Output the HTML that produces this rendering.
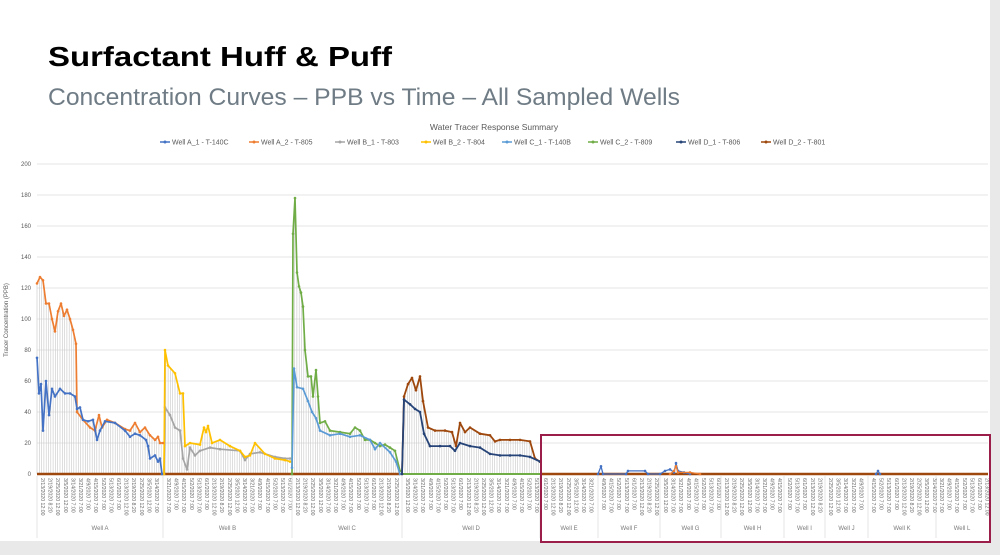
<!DOCTYPE html>
<html><head><meta charset="utf-8">
<style>
html,body{margin:0;padding:0;background:#fff;}
svg{display:block;font-family:"Liberation Sans",sans-serif;}
</style></head>
<body>
<svg id="s" width="1000" height="555" viewBox="0 0 1000 555" xmlns="http://www.w3.org/2000/svg">
<rect width="1000" height="555" fill="#fff"/>
<rect x="990" y="0" width="10" height="555" fill="#e9e9e9"/>
<rect x="0" y="541" width="1000" height="14" fill="#e9e9e9"/>
<text x="48" y="66" font-size="28" font-weight="bold" fill="#000" textLength="344" lengthAdjust="spacingAndGlyphs">Surfactant Huff &amp; Puff</text>
<text x="48" y="105" font-size="24" fill="#6f7c85" textLength="632" lengthAdjust="spacingAndGlyphs">Concentration Curves – PPB vs Time – All Sampled Wells</text>
<text x="494" y="130" font-size="8.5" fill="#595959" text-anchor="middle">Water Tracer Response Summary</text>
<g id="g"></g>
<rect x="541" y="435" width="449" height="107" fill="none" stroke="#9b1d4a" stroke-width="2"/>
</svg>
<script>
const g=document.getElementById('g');let h='';
const X0=37,X1=988,Y0=474,PX=1.55;
const y=v=>Y0-v*PX;
for(let v=0;v<=200;v+=20){h+=`<line x1="${X0}" x2="${X1}" y1="${y(v)}" y2="${y(v)}" stroke="#e6e6e6" stroke-width="1"/>`;
h+=`<text x="31" y="${y(v)+2}" font-size="6" fill="#595959" text-anchor="end">${v}</text>`;}
h+=`<text transform="translate(8,320) rotate(-90)" font-size="6" fill="#595959" text-anchor="middle">Tracer Concentration (PPB)</text>`;
const leg=[["Well A_1 - T-140C","#4472c4",160],["Well A_2 - T-805","#ed7d31",249],["Well B_1 - T-803","#a5a5a5",335],["Well B_2 - T-804","#ffc000",421],["Well C_1 - T-140B","#5b9bd5",502],["Well C_2 - T-809","#70ad47",588],["Well D_1 - T-806","#264478",676],["Well D_2 - T-801","#9e480e",761]];
leg.forEach(l=>{h+=`<line x1="${l[2]}" x2="${l[2]+10}" y1="142" y2="142" stroke="${l[1]}" stroke-width="1.5"/><circle cx="${l[2]+5}" cy="142" r="1.5" fill="${l[1]}"/><text x="${l[2]+12}" y="144.5" font-size="7" fill="#595959">${l[0]}</text>`;});
function interp(pts,x){for(let i=0;i<pts.length-1;i++){if(x>=pts[i][0]&&x<=pts[i+1][0]){const t=(x-pts[i][0])/(pts[i+1][0]-pts[i][0]||1);return pts[i][1]+t*(pts[i+1][1]-pts[i][1]);}}return null;}
function P(a){const r=[];for(let i=0;i<a.length;i+=2)r.push([a[i],a[i+1]]);return r;}
const S={
orange:P([37,123,40,127,43,125,46,110,49,110,52,100,55,92,58,105,61,110,64,102,67,106,70,100,73,93,76,84,77,40,83,35,90,30,95,28,99,38,102,30,107,35,115,33,125,29,130,28,135,33,140,27,145,30,150,25,155,22,158,24,160,20,163,20]),
blue:P([37,75,39,52,41,58,43,28,46,60,49,38,52,55,55,50,60,55,65,52,70,52,75,50,77,42,80,43,83,35,88,34,93,35,97,22,100,28,105,34,115,33,125,28,130,24,135,26,140,25,146,22,148,18,150,10,155,12,158,8,160,10,162,0]),
yellow:P([164,0,165,80,168,70,175,65,180,52,183,52,185,18,190,20,200,19,204,30,206,27,208,31,212,20,220,22,230,18,240,15,245,11,250,12,255,20,265,13,275,10,285,9,290,8]),
gray:P([164,0,165,43,170,38,175,30,180,28,183,10,187,3,190,17,195,12,200,15,210,17,220,16,240,15,245,9,250,13,260,14,275,11,285,10,290,10]),
green:P([292,0,293,155,295,178,297,130,299,121,301,117,303,108,305,80,308,63,311,63,313,50,316,67,318,50,320,33,325,34,330,28,340,27,350,26,355,30,360,28,365,22,370,22,375,20,380,18,385,19,390,17,395,15,400,2]),
lblue:P([292,4,294,68,297,56,303,55,308,47,312,40,316,36,320,28,330,25,340,26,350,24,360,25,370,22,375,16,380,20,390,14,396,8,400,0]),
brown:P([402,0,404,50,408,58,412,62,416,54,420,63,423,47,428,30,435,28,445,28,452,27,456,18,460,33,465,27,470,30,480,26,490,25,495,21,500,22,510,22,520,22,530,21,535,10,540,8]),
navy:P([402,0,404,48,410,45,415,42,420,40,424,26,430,18,440,18,450,18,455,15,460,20,470,18,480,17,490,13,500,12,510,12,520,12,530,11,540,8])
};
let d='';
for(let x=X0;x<540;x+=2.3){let m=0;for(const k in S){const v=interp(S[k],x);if(v!==null&&v>m)m=v;}if(m>0)d+=`M${x.toFixed(1)} ${Y0}V${y(m).toFixed(1)}`;}
h+=`<path d="${d}" stroke="#c8c8c8" stroke-width="0.6"/>`;
h+=`<line x1="${X0}" x2="${X1}" y1="${Y0}" y2="${Y0}" stroke="#70ad47" stroke-width="2"/>`;
h+=`<line x1="${X0}" x2="400" y1="${Y0}" y2="${Y0}" stroke="#9e480e" stroke-width="2.4"/>`;
h+=`<line x1="540" x2="${X1}" y1="${Y0}" y2="${Y0}" stroke="#9e480e" stroke-width="2.4"/>`;
function line(pts,c,w){let p='';pts.forEach((q,i)=>{p+=(i?'L':'M')+q[0]+' '+y(q[1]).toFixed(1);});let s=`<path d="${p}" fill="none" stroke="${c}" stroke-width="${w}" stroke-linejoin="round"/>`;pts.forEach(q=>{s+=`<circle cx="${q[0]}" cy="${y(q[1]).toFixed(1)}" r="1.3" fill="${c}"/>`;});return s;}
h+=line(S.gray,"#a5a5a5",1.7)+line(S.yellow,"#ffc000",1.7)+line(S.orange,"#ed7d31",1.7)+line(S.blue,"#4472c4",1.7)+line(S.green,"#70ad47",1.7)+line(S.lblue,"#5b9bd5",1.7)+line(S.brown,"#9e480e",1.8)+line(S.navy,"#264478",1.8);
h+=line(P([598,0,601,5,603,0,626,0,628,2,645,2,648,0,660,0,665,2,670,3,674,1,676,7,678,2,684,1,690,0]),"#4472c4",1.3);
h+=line(P([670,0,674,2,676,5,678,1,690,1,700,0]),"#ed7d31",1.3);
h+=line(P([876,0,878,2,880,0]),"#4472c4",1.2);
const wells=[["Well A",37,163],["Well B",163,292],["Well C",292,402],["Well D",402,540],["Well E",540,598],["Well F",598,660],["Well G",660,721],["Well H",721,784],["Well I",784,825],["Well J",825,868],["Well K",868,936],["Well L",936,988]];
const dates=["2/13/2020 12:00","2/19/2020 8:20","2/25/2020 12:00","3/5/2020 12:00","3/14/2020 7:00","3/21/2020 7:00","4/9/2020 7:00","4/15/2020 7:00","5/2/2020 7:00","5/13/2020 7:00","6/1/2020 7:00"];
let k=0;
wells.forEach(w=>{for(let x=w[1]+4;x<w[2]-1;x+=7.6){h+=`<text transform="translate(${x.toFixed(1)},478) rotate(90)" font-size="5.2" fill="#6a6a6a">${dates[k++%dates.length]}</text>`;}
h+=`<line x1="${w[1]}" x2="${w[1]}" y1="476" y2="538" stroke="#d9d9d9" stroke-width="0.7"/>`;
h+=`<text x="${(w[1]+w[2])/2}" y="530" font-size="6" fill="#7a7a7a" text-anchor="middle">${w[0]}</text>`;});
g.innerHTML=h;
</script>
</body></html>
